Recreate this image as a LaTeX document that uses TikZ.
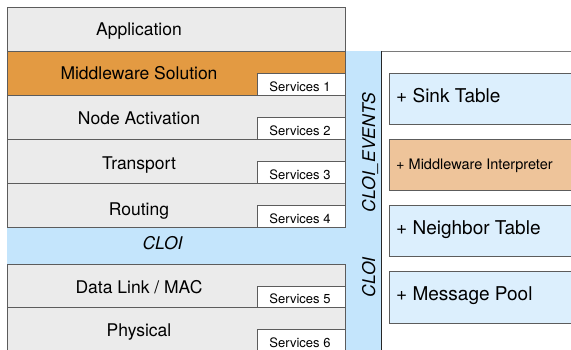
\documentclass[tikz,border=0pt]{standalone}
\usepackage{fontspec}
\setmainfont{TeX Gyre Heros}
\definecolor{rowgray}{HTML}{EBEBEB}
\definecolor{linegray}{HTML}{5C5C5C}
\definecolor{mworange}{HTML}{E39A42}
\definecolor{bandblue}{HTML}{C4E5FC}
\definecolor{boxblue}{HTML}{DCEFFD}
\definecolor{interp}{HTML}{EEC49A}
\definecolor{toplinegray}{HTML}{7A7A7A}
\begin{document}
\begin{tikzpicture}[x=1pt,y=-1pt,
  row/.style={draw=linegray, fill=rowgray, line width=0.9pt, minimum width=338pt, minimum height=44pt, anchor=north west, inner sep=0pt},
  svc/.style={draw=linegray, fill=white, line width=0.9pt, minimum width=88pt, minimum height=22pt, anchor=south east, inner sep=0pt},
  rbox/.style={draw=linegray, fill=boxblue, line width=0.9pt, minimum width=200pt, minimum height=51pt, anchor=north west, inner sep=0pt},
  lbl/.style={anchor=base, inner sep=0pt, font=\fontsize{17.5}{20}\selectfont},
  slbl/.style={anchor=base, inner sep=0pt, font=\fontsize{13}{15}\selectfont},
  rlbl/.style={anchor=base west, inner sep=0pt, font=\fontsize{19}{22}\selectfont},
  clbl/.style={anchor=base, inner sep=0pt, font=\fontsize{17.5}{20}\selectfont\itshape}]
\useasboundingbox (0,0) rectangle (571,350);
\clip (0,0) rectangle (571,350);
% blue bands
\fill[bandblue] (345,51) rectangle (381,360);
\fill[bandblue] (7,227) rectangle (345,264);
% panel
\draw[toplinegray, line width=0.9pt] (381,51) -- (590,51);
\draw[black!85, line width=0.9pt] (381,51) -- (381,360);
% rows
\node[row] (app) at (7,7) {};
\node[row, fill=mworange] (mw) at (7,51) {};
\node[row] (na) at (7,95) {};
\node[row] (tr) at (7,139) {};
\node[row] (rt) at (7,183) {};
\node[row, minimum height=43pt] (dl) at (7,264) {};
\node[row] (ph) at (7,307) {};
% services boxes
\node[svc] (s1) at (mw.south east) {};
\node[svc] (s2) at (na.south east) {};
\node[svc] (s3) at (tr.south east) {};
\node[svc] (s4) at (rt.south east) {};
\node[svc, minimum height=21pt] (s5) at (dl.south east) {};
\node[svc] (s6) at (ph.south east) {};
% row labels
\node[lbl] (tapp) at (139,36) {Application};
\node[lbl] (tmw) at (139,80) {Middleware Solution};
\node[lbl] (tna) at (139,125) {Node Activation};
\node[lbl] (ttr) at (139,170) {Transport};
\node[lbl] (trt) at (139,215) {Routing};
\node[lbl] (tdl) at (139,293.3) {Data Link / MAC};
\node[lbl] (tph) at (139,336.7) {Physical};
% services labels
\node[slbl] (ts1) at (300,91.5) {Services 1};
\node[slbl] (ts2) at (300,135.5) {Services 2};
\node[slbl] (ts3) at (300,179.5) {Services 3};
\node[slbl] (ts4) at (300,223.5) {Services 4};
\node[slbl] (ts5) at (300,303.5) {Services 5};
\node[slbl] (ts6) at (300,347.5) {Services 6};
% CLOI labels
\node[clbl] (cloih) at (162.5,249.5) {CLOI};
\node[clbl, rotate=90] (cloiev) at (375,152.5) {CLOI\_EVENTS};
\node[clbl, rotate=90] (cloiv) at (375,277.5) {CLOI};
% right boxes
\node[rbox] (sink) at (389,73) {};
\node[rbox, fill=interp] (mi) at (389,139) {};
\node[rbox] (nt) at (389,205) {};
\node[rbox] (mp) at (389,271.5) {};
\node[rlbl] (tsink) at (396,102.7) {+ Sink Table};
\node[rlbl, font=\fontsize{14.5}{17}\selectfont] (tmi) at (396,169.3) {+ Middleware Interpreter};
\node[rlbl] (tnt) at (396,235) {+ Neighbor Table};
\node[rlbl] (tmp) at (396,301) {+ Message Pool};
\end{tikzpicture}
\end{document}
